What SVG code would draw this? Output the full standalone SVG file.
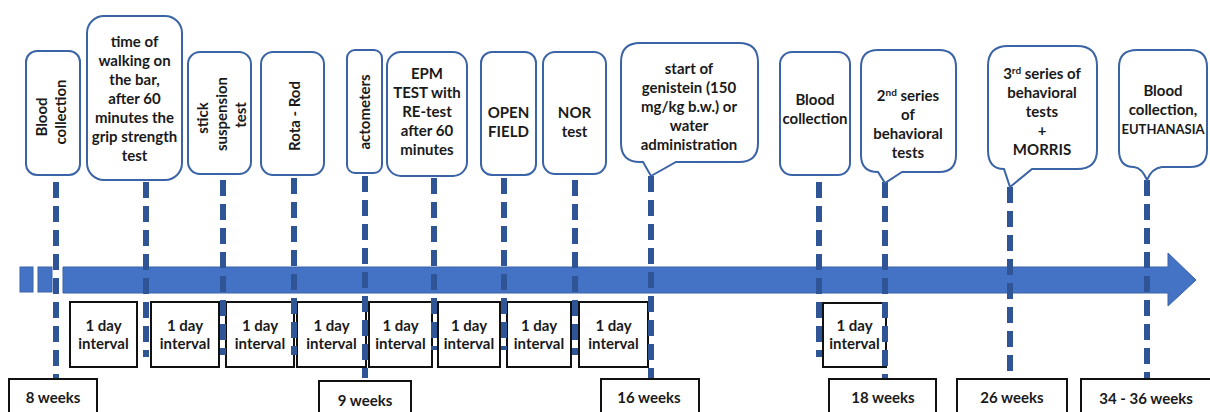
<svg xmlns="http://www.w3.org/2000/svg" width="1210" height="412" viewBox="0 0 1210 412">
<style>
.t{font-family:Lato,"Open Sans","Liberation Sans",sans-serif;font-weight:bold;font-size:15px;fill:#1a1a1a;text-anchor:middle}
.co{fill:#fff;stroke:#3B64A6;stroke-width:2}
.bx{fill:#fff;stroke:#111;stroke-width:2}
.dl{fill:none;stroke:#2F5597;stroke-width:6;stroke-dasharray:16 8}
.sup{font-size:10px}
</style>
<rect width="1210" height="412" fill="#fff"/>

<g id="timeline">
<rect x="20" y="267" width="13" height="25" fill="#4472C4" stroke="#3A62A8" stroke-width="1"/>
<rect x="38" y="267" width="14" height="25" fill="#4472C4" stroke="#3A62A8" stroke-width="1"/>
<path d="M63,267 H1168 V253 L1196,280 L1168,306 V293 H63 Z" fill="#4472C4" stroke="#3A62A8" stroke-width="1"/>
</g>

<g id="intervals">
<rect class="bx" x="70" y="302" width="67" height="65"/>
<rect class="bx" x="151" y="302" width="68" height="65"/>
<rect class="bx" x="226" y="302" width="68" height="65"/>
<rect class="bx" x="297" y="302" width="69" height="65"/>
<rect class="bx" x="369" y="302" width="63" height="65"/>
<rect class="bx" x="438" y="302" width="62" height="65"/>
<rect class="bx" x="507" y="302" width="64" height="65"/>
<rect class="bx" x="579" y="302" width="69" height="65"/>
<rect class="bx" x="823" y="303" width="63" height="64"/>
<text class="t"><tspan x="103.5" y="331">1 day</tspan><tspan x="103.5" y="349">interval</tspan></text>
<text class="t"><tspan x="185" y="331">1 day</tspan><tspan x="185" y="349">interval</tspan></text>
<text class="t"><tspan x="260" y="331">1 day</tspan><tspan x="260" y="349">interval</tspan></text>
<text class="t"><tspan x="331.5" y="331">1 day</tspan><tspan x="331.5" y="349">interval</tspan></text>
<text class="t"><tspan x="400.5" y="331">1 day</tspan><tspan x="400.5" y="349">interval</tspan></text>
<text class="t"><tspan x="469" y="331">1 day</tspan><tspan x="469" y="349">interval</tspan></text>
<text class="t"><tspan x="539" y="331">1 day</tspan><tspan x="539" y="349">interval</tspan></text>
<text class="t"><tspan x="613.5" y="331">1 day</tspan><tspan x="613.5" y="349">interval</tspan></text>
<text class="t"><tspan x="854.5" y="331">1 day</tspan><tspan x="854.5" y="349">interval</tspan></text>
</g>

<g id="connectors">
<line class="dl" x1="56" y1="182" x2="56" y2="378"/>
<line class="dl" x1="146" y1="182" x2="146" y2="357"/>
<line class="dl" x1="223" y1="180" x2="223" y2="355"/>
<line class="dl" x1="294" y1="178" x2="294" y2="355"/>
<line class="dl" x1="365" y1="176" x2="365" y2="378"/>
<line class="dl" x1="434" y1="178" x2="434" y2="350"/>
<line class="dl" x1="504" y1="178" x2="504" y2="350"/>
<line class="dl" x1="575" y1="180" x2="575" y2="355"/>
<line class="dl" x1="651" y1="176" x2="651" y2="378"/>
<line class="dl" x1="819" y1="182" x2="819" y2="357"/>
<line class="dl" x1="885" y1="182" x2="885" y2="378"/>
<line class="dl" x1="1010" y1="187" x2="1010" y2="378"/>
<line class="dl" x1="1147" y1="180" x2="1147" y2="378"/>
</g>

<g id="weeks">
<rect class="bx" x="9" y="379" width="88" height="40"/>
<text class="t" x="53" y="403">8 weeks</text>
<rect class="bx" x="319" y="381" width="92" height="40"/>
<text class="t" x="365" y="406">9 weeks</text>
<rect class="bx" x="601" y="379" width="98" height="40"/>
<text class="t" x="649" y="403">16 weeks</text>
<rect class="bx" x="829" y="379" width="107" height="40"/>
<text class="t" x="883" y="403">18 weeks</text>
<rect class="bx" x="957" y="379" width="110" height="40"/>
<text class="t" x="1012" y="403">26 weeks</text>
<rect class="bx" x="1081" y="379" width="140" height="40"/>
<text class="t" x="1146" y="404">34 - 36 weeks</text>
</g>

<g id="n-blood1">
<rect class="co" x="26" y="51" width="54" height="124" rx="11"/>
<text class="t" transform="translate(47,117) rotate(-90)">Blood</text>
<text class="t" transform="translate(66,112) rotate(-90)">collection</text>
</g>

<g id="n-walking">
<rect class="co" x="87" y="16" width="95" height="164" rx="17"/>
<text class="t"><tspan x="134.5" y="47">time of</tspan><tspan x="134.5" y="66">walking on</tspan><tspan x="134.5" y="85">the bar,</tspan><tspan x="134.5" y="104">after 60</tspan><tspan x="134.5" y="123">minutes the</tspan><tspan x="134.5" y="142">grip strength</tspan><tspan x="134.5" y="161">test</tspan></text>
</g>

<g id="n-stick">
<rect class="co" x="188" y="52" width="63" height="122" rx="12"/>
<text class="t" transform="translate(208,118) rotate(-90)">stick</text>
<text class="t" transform="translate(227,114) rotate(-90)">suspension</text>
<text class="t" transform="translate(246,115) rotate(-90)">test</text>
</g>

<g id="n-rota">
<rect class="co" x="261" y="52" width="63" height="123" rx="12"/>
<text class="t" transform="translate(300,116) rotate(-90)">Rota - Rod</text>
</g>

<g id="n-acto">
<rect class="co" x="347" y="50" width="35" height="123" rx="8"/>
<text class="t" transform="translate(370,112) rotate(-90)">actometers</text>
</g>

<g id="n-epm">
<rect class="co" x="387" y="52" width="80" height="124" rx="14"/>
<text class="t"><tspan x="427" y="79">EPM</tspan><tspan x="427" y="98">TEST with</tspan><tspan x="427" y="117">RE-test</tspan><tspan x="427" y="136">after 60</tspan><tspan x="427" y="155">minutes</tspan></text>
</g>

<g id="n-open">
<rect class="co" x="481" y="52" width="55" height="123" rx="11"/>
<text class="t"><tspan x="508.5" y="118">OPEN</tspan><tspan x="508.5" y="137">FIELD</tspan></text>
</g>

<g id="n-nor">
<rect class="co" x="543" y="52" width="63" height="122" rx="12"/>
<text class="t"><tspan x="574.5" y="118">NOR</tspan><tspan x="574.5" y="137">test</tspan></text>
</g>

<g id="n-genistein">
<path class="co" d="M640,43 H739 Q758,43 758,62 V143 Q758,162 739,162 H676 L651,176 L643,162 H640 Q621,162 621,143 V62 Q621,43 640,43 Z"/>
<text class="t"><tspan x="689" y="74">start of</tspan><tspan x="689" y="93">genistein (150</tspan><tspan x="689" y="112">mg/kg b.w.) or</tspan><tspan x="689" y="131">water</tspan><tspan x="689" y="150">administration</tspan></text>
</g>

<g id="n-blood2">
<rect class="co" x="780" y="52" width="70" height="123" rx="12"/>
<text class="t"><tspan x="815" y="105">Blood</tspan><tspan x="815" y="124">collection</tspan></text>
</g>

<g id="n-2nd">
<path class="co" d="M878,50 H939 Q956,50 956,67 V155 Q956,172 939,172 H902 L885,183 L878,172 Q861,172 861,155 V67 Q861,50 878,50 Z"/>
<text class="t"><tspan x="908" y="101">2<tspan class="sup" dy="-5">nd</tspan><tspan dy="5"> series</tspan></tspan><tspan x="908" y="120">of</tspan><tspan x="908" y="139">behavioral</tspan><tspan x="908" y="158">tests</tspan></text>
</g>

<g id="n-3rd">
<path class="co" d="M1008,46 H1077 Q1097,46 1097,66 V150 Q1097,169 1077,169 H1032 L1010,187 L1004,169 Q988,169 988,150 V66 Q988,46 1008,46 Z"/>
<text class="t"><tspan x="1042" y="79">3<tspan class="sup" dy="-5">rd</tspan><tspan dy="5"> series of</tspan></tspan><tspan x="1042" y="98">behavioral</tspan><tspan x="1042" y="117">tests</tspan><tspan x="1042" y="136">+</tspan><tspan x="1042" y="155">MORRIS</tspan></text>
</g>

<g id="n-euth">
<path class="co" d="M1137,50 H1190 Q1207,50 1207,67 V150 Q1207,167 1190,167 H1162 Q1152,168 1147,180 Q1142,168 1134,167 Q1119,167 1119,150 V67 Q1119,50 1137,50 Z"/>
<text class="t"><tspan x="1163" y="96">Blood</tspan><tspan x="1163" y="115">collection,</tspan></text>
<text class="t" x="1163" y="134" style="font-size:13px">EUTHANASIA</text>
</g>
</svg>
